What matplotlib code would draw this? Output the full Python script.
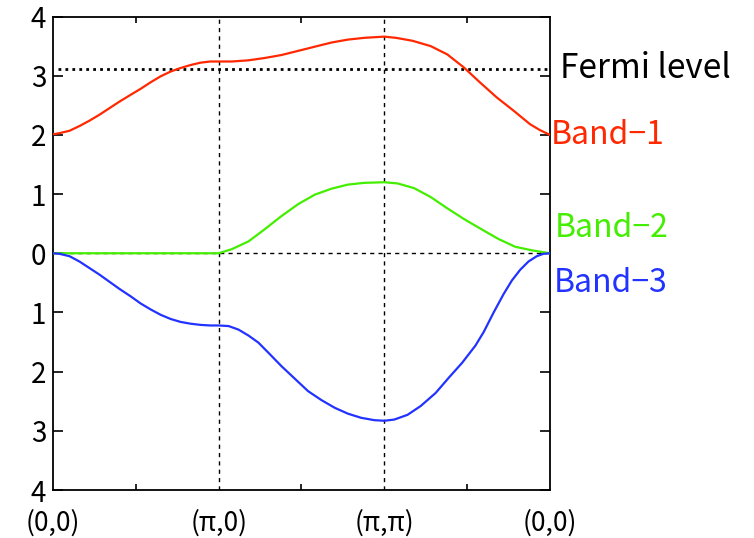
import matplotlib
matplotlib.use("Agg")
import matplotlib.pyplot as plt

plt.rcParams['font.family'] = ['Noto Sans CJK JP', 'DejaVu Sans']

# k-path coordinate (0..3) and energies
band1_k = [0.00, 0.04, 0.10, 0.16, 0.22, 0.28, 0.34, 0.40, 0.47, 0.53, 0.59, 0.65,
           0.71, 0.77, 0.83, 0.89, 0.95, 1.00, 1.08, 1.18, 1.28, 1.38, 1.48, 1.58,
           1.68, 1.78, 1.88, 2.00, 2.07, 2.17, 2.28, 2.38, 2.48, 2.58, 2.68, 2.78,
           2.88, 2.94, 3.00]
band1_e = [2.01, 2.03, 2.07, 2.15, 2.24, 2.34, 2.45, 2.56, 2.68, 2.78, 2.89, 2.99,
           3.07, 3.13, 3.18, 3.22, 3.24, 3.24, 3.24, 3.26, 3.30, 3.35, 3.42, 3.49,
           3.56, 3.61, 3.64, 3.66, 3.64, 3.59, 3.50, 3.36, 3.14, 2.88, 2.63, 2.41,
           2.18, 2.08, 2.00]

band2_k = [0.00, 0.50, 1.00, 1.08, 1.18, 1.28, 1.38, 1.48, 1.58, 1.68, 1.78, 1.88,
           2.00, 2.08, 2.18, 2.28, 2.38, 2.48, 2.59, 2.69, 2.79, 2.89, 3.00]
band2_e = [0.00, 0.00, 0.00, 0.07, 0.20, 0.41, 0.63, 0.83, 0.99, 1.09, 1.16, 1.19,
           1.20, 1.18, 1.10, 0.95, 0.76, 0.58, 0.40, 0.24, 0.11, 0.05, 0.00]

band3_k = [0.00, 0.04, 0.10, 0.16, 0.22, 0.28, 0.34, 0.40, 0.47, 0.53, 0.59, 0.65,
           0.71, 0.77, 0.83, 0.89, 0.95, 1.00, 1.06, 1.12, 1.18, 1.24, 1.30, 1.38,
           1.46, 1.54, 1.62, 1.70, 1.78, 1.86, 1.94, 2.00, 2.06, 2.14, 2.22, 2.31,
           2.39, 2.47, 2.55, 2.60, 2.66, 2.72, 2.77, 2.82, 2.87, 2.92, 2.96, 3.00]
band3_e = [0.00, -0.01, -0.05, -0.14, -0.25, -0.36, -0.48, -0.60, -0.73, -0.85, -0.95, -1.04,
           -1.11, -1.16, -1.19, -1.21, -1.22, -1.22, -1.23, -1.29, -1.39, -1.51, -1.68, -1.91,
           -2.12, -2.33, -2.48, -2.61, -2.71, -2.78, -2.82, -2.83, -2.81, -2.73, -2.58, -2.36,
           -2.10, -1.85, -1.56, -1.33, -1.00, -0.69, -0.46, -0.28, -0.14, -0.05, -0.01, 0.00]

fermi = 3.12
k_labels = ['(0,0)', '(π,0)', '(π,π)', '(0,0)']
y_ticks = [-4, -3, -2, -1, 0, 1, 2, 3, 4]
band_names = ['Band\u22121', 'Band\u22122', 'Band\u22123']

red = '#ff2800'
green = '#44ee00'
blue = '#2233ff'

fig = plt.figure(figsize=(7.54, 5.38), dpi=100)
ax = fig.add_axes([0.0703, 0.0892, 0.6591, 0.8801])

ax.axhline(0, color='black', lw=1.0, ls=(0, (3, 3)), zorder=1)
for k in (1, 2):
    ax.axvline(k, color='black', lw=1.0, ls=(0, (3, 3)), zorder=1)
ax.plot([0.03, 3], [fermi, fermi], color='black', lw=2.0, ls=(0, (1, 1.5)), zorder=1)

ax.plot(band1_k, band1_e, color=red, lw=1.6, zorder=3)
ax.plot(band2_k, band2_e, color=green, lw=1.6, zorder=3)
ax.plot(band3_k, band3_e, color=blue, lw=1.6, zorder=3)

ax.set_xlim(0, 3)
ax.set_ylim(-4, 4)
ax.set_yticks(y_ticks)
ax.set_yticklabels([str(abs(v)) for v in y_ticks])
ax.set_xticks([0, 1, 2, 3])
ax.set_xticklabels(k_labels)
ax.set_xticks([0.5, 1.5, 2.5], minor=True)

ax.tick_params(axis='x', which='major', length=0, pad=14, labelsize=19)
ax.tick_params(axis='x', which='minor', direction='in', length=4, width=1.2, top=True)
ax.tick_params(axis='y', which='major', direction='in', length=7, width=1.2,
               right=True, pad=5, labelsize=20)
for s in ax.spines.values():
    s.set_linewidth(1.3)

ax.text(3.06, fermi, 'Fermi level', color='black', fontsize=24, va='center', ha='left',
        clip_on=False)
ax.text(3.005, 2.0, band_names[0], color=red, fontsize=23, va='center', ha='left', clip_on=False)
ax.text(3.03, 0.43, band_names[1], color=green, fontsize=23, va='center', ha='left', clip_on=False)
ax.text(3.02, -0.5, band_names[2], color=blue, fontsize=23, va='center', ha='left', clip_on=False)

fig.savefig('out.png', dpi=100)
